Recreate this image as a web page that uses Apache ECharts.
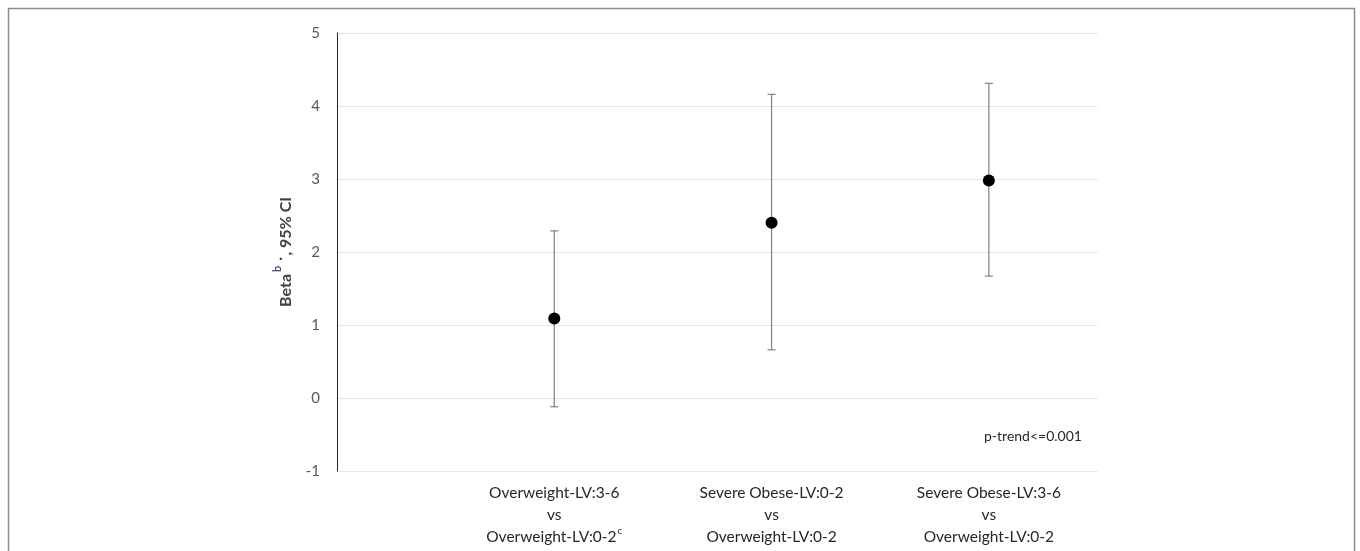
<!DOCTYPE html>
<html>
<head>
<meta charset="utf-8">
<script src="https://cdn.jsdelivr.net/npm/echarts@6/dist/echarts.min.js"></script>
<style>
html,body{margin:0;padding:0;background:#fff;}
#chart{width:1360px;height:551px;}
</style>
</head>
<body>
<div id="chart"></div>
<script>
// Comparison labels (line1, line2, line3, superscript on line3)
const categories = [
  ['Overweight-LV:3-6', 'vs', 'Overweight-LV:0-2', 'c'],
  ['Severe Obese-LV:0-2', 'vs', 'Overweight-LV:0-2', ''],
  ['Severe Obese-LV:3-6', 'vs', 'Overweight-LV:0-2', '']
];
const positions = [1, 2, 3];
const estimates = [1.09, 2.40, 2.98];
const lowerCI = [-0.12, 0.66, 1.67];
const upperCI = [2.29, 4.16, 4.31];
const yTicks = [-1, 0, 1, 2, 3, 4, 5];
const pTrend = 'p-trend<=0.001';

const FONT = 'Lato, "Open Sans", sans-serif';
const chart = echarts.init(document.getElementById('chart'));

const catByPos = {};
positions.forEach((p, i) => { catByPos[p] = categories[i]; });

const option = {
  backgroundColor: '#fff',
  animation: false,
  grid: { left: 337, right: 262.5, top: 33, bottom: 80, containLabel: false },
  xAxis: {
    type: 'value',
    min: 0, max: 3.5, interval: 1,
    axisLine: { show: false },
    axisTick: { show: false },
    splitLine: { show: false },
    axisLabel: {
      margin: 11,
      showMaxLabel: false,
      color: '#262626',
      fontFamily: FONT,
      fontSize: 15.5,
      lineHeight: 22,
      align: 'center',
      formatter: function (v) {
        const c = catByPos[v];
        if (!c) return '';
        return '{a|' + c[0] + '}\n{a|' + c[1] + '}\n{a|' + c[2] + '}' + (c[3] ? '{sup|' + c[3] + '}' : '');
      },
      rich: {
        a: { fontFamily: FONT, fontSize: 15.5, lineHeight: 22, color: '#262626' },
        sup: { fontFamily: FONT, fontSize: 10, lineHeight: 22, color: '#262626', verticalAlign: 'top', padding: [0, 0, 9, 1] }
      }
    }
  },
  yAxis: {
    type: 'value',
    min: -1, max: 5, interval: 1,
    axisLine: { show: true, lineStyle: { color: '#262626', width: 1 } },
    axisTick: { show: false },
    splitLine: { show: true, lineStyle: { color: '#e6e6e6', width: 1 } },
    axisLabel: {
      margin: 17, color: '#595959', fontFamily: FONT, fontSize: 15,
      formatter: function (v) { return yTicks.indexOf(v) >= 0 ? String(v) : ''; }
    },
    name: '{b|Beta}{s|b}{b| ˙, 95% CI}',
    nameLocation: 'middle',
    nameGap: 38,
    nameRotate: 90,
    nameTextStyle: {
      rich: {
        b: { fontFamily: FONT, fontSize: 16, fontWeight: 'bold', color: '#404040' },
        s: { fontFamily: FONT, fontSize: 11, color: '#2a1b5c', padding: [0, 0, 16, 2] }
      }
    }
  },
  series: [
    {
      type: 'custom',
      z: 2,
      renderItem: function (params, api) {
        const x = api.value(0);
        const lo = api.coord([x, api.value(1)]);
        const hi = api.coord([x, api.value(2)]);
        const cap = 4;
        const style = { stroke: '#808080', lineWidth: 1.2 };
        return {
          type: 'group',
          children: [
            { type: 'line', shape: { x1: lo[0], y1: lo[1], x2: hi[0], y2: hi[1] }, style: style },
            { type: 'line', shape: { x1: lo[0] - cap, y1: lo[1], x2: lo[0] + cap, y2: lo[1] }, style: style },
            { type: 'line', shape: { x1: hi[0] - cap, y1: hi[1], x2: hi[0] + cap, y2: hi[1] }, style: style }
          ]
        };
      },
      data: positions.map((p, i) => [p, lowerCI[i], upperCI[i]])
    },
    {
      type: 'scatter',
      z: 3,
      symbol: 'circle',
      symbolSize: 12,
      itemStyle: { color: '#000', opacity: 1 },
      data: positions.map((p, i) => [p, estimates[i]])
    }
  ],
  graphic: [
    {
      type: 'rect',
      shape: { x: 8.5, y: 8.5, width: 1346, height: 600 },
      style: { fill: 'none', stroke: '#8c8c8c', lineWidth: 1.5 },
      silent: true
    },
    {
      type: 'text',
      left: 984, top: 429,
      style: { text: pTrend, fontFamily: FONT, fontSize: 14, fill: '#262626' }
    }
  ]
};
chart.setOption(option);
</script>
</body>
</html>
